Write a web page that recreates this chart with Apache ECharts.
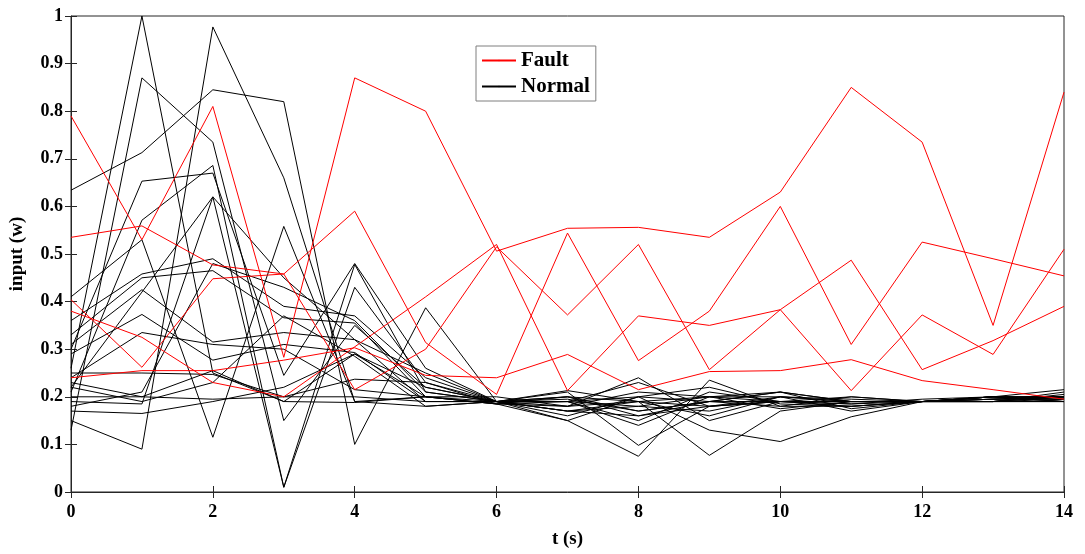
<!DOCTYPE html>
<html><head><meta charset="utf-8">
<script src="https://cdn.jsdelivr.net/npm/echarts@6/dist/echarts.min.js"></script>
<style>html,body{margin:0;padding:0;background:#fff;overflow:hidden}#c{width:1085px;height:554px}</style>
</head><body><div id="c"></div>
<script>
var times = [0,1,2,3,4,5,6,7,8,9,10,11,12,13,14];
var xTicks = [0,2,4,6,8,10,12,14];
var yTicks = [0,0.1,0.2,0.3,0.4,0.5,0.6,0.7,0.8,0.9,1];

var fault1 = [0.79,0.53,0.81,0.283,0.87,0.80,0.506,0.554,0.556,0.535,0.63,0.85,0.735,0.35,0.84];
var fault2 = [0.535,0.559,0.477,0.458,0.59,0.314,0.205,0.544,0.276,0.38,0.60,0.31,0.525,0.49,0.454];
var fault3 = [0.404,0.262,0.448,0.458,0.215,0.30,0.515,0.372,0.52,0.257,0.383,0.213,0.372,0.289,0.51];
var fault4 = [0.38,0.325,0.23,0.20,0.305,0.41,0.52,0.213,0.37,0.35,0.383,0.487,0.257,0.318,0.39];
var fault5 = [0.24,0.255,0.255,0.277,0.303,0.245,0.24,0.289,0.215,0.253,0.255,0.278,0.234,0.215,0.195];

var normal1  = [0.26,1.00,0.25,0.19,0.29,0.22,0.19,0.17,0.16,0.18,0.19,0.19,0.19,0.195,0.20];
var normal2  = [0.13,0.87,0.735,0.15,0.35,0.22,0.19,0.18,0.24,0.15,0.19,0.18,0.19,0.19,0.19];
var normal3  = [0.634,0.713,0.845,0.82,0.10,0.387,0.19,0.19,0.14,0.20,0.21,0.19,0.19,0.20,0.195];
var normal4  = [0.15,0.09,0.977,0.66,0.19,0.20,0.185,0.15,0.075,0.235,0.18,0.18,0.19,0.19,0.21];
var normal5  = [0.30,0.653,0.67,0.245,0.48,0.26,0.19,0.21,0.098,0.18,0.20,0.17,0.19,0.19,0.20];
var normal6  = [0.21,0.571,0.686,0.01,0.43,0.23,0.185,0.18,0.19,0.077,0.17,0.19,0.19,0.20,0.19];
var normal7  = [0.22,0.42,0.62,0.01,0.478,0.21,0.19,0.16,0.20,0.13,0.106,0.158,0.19,0.195,0.20];
var normal8  = [0.41,0.53,0.115,0.558,0.19,0.18,0.19,0.20,0.17,0.19,0.21,0.175,0.19,0.20,0.215];
var normal9  = [0.36,0.458,0.49,0.39,0.37,0.24,0.19,0.19,0.18,0.17,0.20,0.19,0.19,0.19,0.19];
var normal10 = [0.33,0.45,0.465,0.366,0.355,0.20,0.185,0.19,0.15,0.21,0.19,0.185,0.19,0.20,0.20];
var normal11 = [0.31,0.425,0.315,0.335,0.32,0.25,0.19,0.20,0.16,0.19,0.18,0.20,0.19,0.19,0.19];
var normal12 = [0.29,0.373,0.277,0.31,0.293,0.19,0.19,0.17,0.18,0.20,0.175,0.19,0.19,0.195,0.195];
var normal13 = [0.25,0.25,0.247,0.20,0.237,0.23,0.19,0.213,0.19,0.18,0.19,0.19,0.19,0.20,0.20];
var normal14 = [0.20,0.20,0.195,0.20,0.20,0.19,0.19,0.19,0.20,0.19,0.19,0.19,0.19,0.195,0.20];
var normal15 = [0.17,0.165,0.19,0.22,0.29,0.20,0.185,0.20,0.19,0.16,0.20,0.195,0.19,0.20,0.19];
var normal16 = [0.22,0.19,0.23,0.37,0.285,0.18,0.19,0.15,0.20,0.22,0.185,0.18,0.19,0.19,0.20];
var normal17 = [0.19,0.185,0.62,0.45,0.32,0.19,0.19,0.195,0.17,0.19,0.21,0.19,0.19,0.19,0.195];
var normal18 = [0.24,0.335,0.31,0.30,0.215,0.20,0.20,0.18,0.21,0.20,0.19,0.185,0.195,0.20,0.20];
var normal19 = [0.18,0.21,0.48,0.43,0.36,0.21,0.19,0.17,0.19,0.20,0.20,0.19,0.19,0.19,0.205];
var normal20 = [0.23,0.20,0.255,0.19,0.188,0.20,0.19,0.19,0.23,0.18,0.19,0.20,0.19,0.20,0.19];

var faultSeries = [fault1,fault2,fault3,fault4,fault5];
var normalSeries = [normal1,normal2,normal3,normal4,normal5,normal6,normal7,normal8,normal9,normal10,
  normal11,normal12,normal13,normal14,normal15,normal16,normal17,normal18,normal19,normal20];

var FONT = '"Liberation Serif","Times New Roman",serif';
function mk(name, color, arr){
  return {name:name, type:'line', symbol:'none', silent:true, animation:false,
    color:color, lineStyle:{color:color, width:1},
    data: times.map(function(t,i){return [t, arr[i]];})};
}
var series = [];
normalSeries.forEach(function(a){series.push(mk('Normal','#000000',a));});
faultSeries.forEach(function(a){series.push(mk('Fault','#ff0000',a));});

var tickStyle = {inside:true, length:6, lineStyle:{color:'#262626'}};
var chart = echarts.init(document.getElementById('c'));
chart.setOption({
  backgroundColor:'#fff',
  animation:false,
  grid:{left:68, right:21, top:16, bottom:59, show:true, borderColor:'#262626', borderWidth:1},
  legend:{data:['Fault','Normal'], orient:'vertical', left:476, top:46, itemGap:5,
    itemWidth:34, itemHeight:2, borderColor:'#7f7f7f', borderWidth:1, padding:[4,6,4,5],
    backgroundColor:'#fff',
    textStyle:{fontFamily:FONT, fontWeight:'bold', fontSize:21, color:'#000'}},
  xAxis:[{type:'value', min:0, max:14, interval:2,
    name:'t (s)', nameLocation:'middle', nameGap:38,
    nameTextStyle:{fontFamily:FONT, fontWeight:'bold', fontSize:19, color:'#000'},
    axisLine:{lineStyle:{color:'#262626'}}, axisTick:tickStyle, splitLine:{show:false},
    axisLabel:{fontFamily:FONT, fontWeight:'bold', fontSize:18, color:'#000', margin:11}},
   {type:'value', position:'top', min:0, max:14, interval:2,
    axisLine:{show:false}, axisTick:tickStyle, axisLabel:{show:false}, splitLine:{show:false}}],
  yAxis:[{type:'value', min:0, max:1, interval:0.1,
    name:'input (w)', nameLocation:'middle', nameGap:44,
    nameTextStyle:{fontFamily:FONT, fontWeight:'bold', fontSize:19, color:'#000'},
    axisLine:{lineStyle:{color:'#262626'}}, axisTick:tickStyle, splitLine:{show:false},
    axisLabel:{fontFamily:FONT, fontWeight:'bold', fontSize:18, color:'#000', margin:8}},
   {type:'value', position:'right', min:0, max:1, interval:0.1,
    axisLine:{show:false}, axisTick:tickStyle, axisLabel:{show:false}, splitLine:{show:false}}],
  series: series
});
</script></body></html>
